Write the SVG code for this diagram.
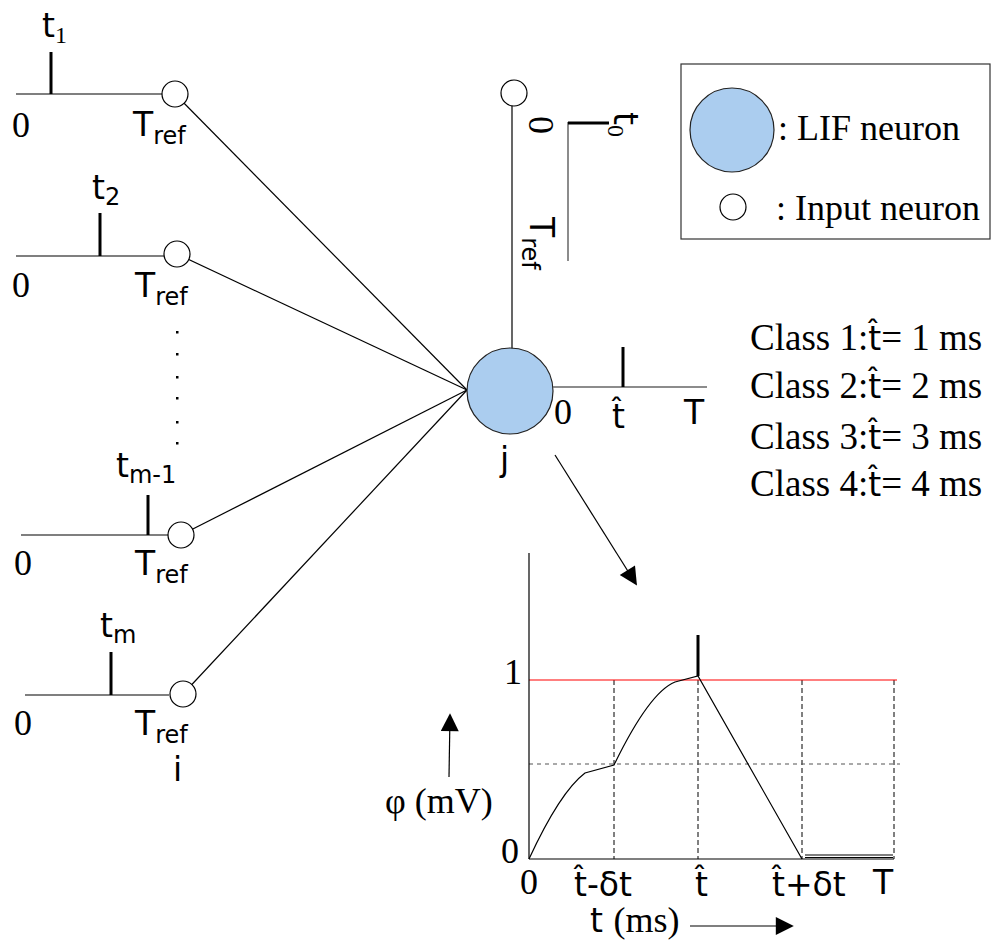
<svg xmlns="http://www.w3.org/2000/svg" width="1000" height="942" viewBox="0 0 1000 942">
<defs>
<marker id="ahBig" viewBox="0 0 10 10" refX="9" refY="5" markerWidth="22" markerHeight="18" markerUnits="userSpaceOnUse" orient="auto"><path d="M0,0 L10,5 L0,10 z" fill="#000"/></marker>
<style>
.ln{stroke:#000;stroke-width:1.2;fill:none}
.gl{stroke:#666;stroke-width:1.5;fill:none}
.sp{stroke:#000;stroke-width:3;fill:none}
.in{fill:#fff;stroke:#000;stroke-width:1.2}
.lif{fill:#abcdef;stroke:#222;stroke-width:1.2}
.sf{font-family:"Liberation Serif",serif;font-size:36px;fill:#000}
.ss{font-family:"DejaVu Sans",sans-serif;font-size:33px;fill:#000}
.sub{font-size:24px}
.cl{font-size:37px}
.dv{stroke:#000;stroke-width:1;stroke-dasharray:5,3;fill:none}
.dh{stroke:#555;stroke-width:1.2;stroke-dasharray:4,4;fill:none}
</style>
</defs>
<rect width="1000" height="942" fill="#fff"/>

<g id="connectors">
<line class="ln" x1="175" y1="94" x2="467" y2="390"/>
<line class="ln" x1="177" y1="254" x2="467" y2="390"/>
<line class="ln" x1="181" y1="535" x2="467" y2="390"/>
<line class="ln" x1="183" y1="694" x2="467" y2="390"/>
<line class="ln" x1="512" y1="93" x2="512" y2="349"/>
<line class="ln" x1="555" y1="455" x2="636" y2="584" marker-end="url(#ahBig)"/>
</g>

<g id="input1">
<line class="ln" x1="16" y1="94" x2="162" y2="94"/>
<line class="sp" x1="51" y1="52" x2="51" y2="94"/>
<circle class="in" cx="175" cy="94" r="13"/>
<text class="ss" x="42" y="37">t<tspan class="sf sub" dy="6">1</tspan></text>
<text class="sf" x="12" y="137">0</text>
<text class="ss" x="133" y="136">T<tspan class="sub" dy="8">ref</tspan></text>
</g>

<g id="input2">
<line class="ln" x1="16" y1="256" x2="164" y2="256"/>
<line class="sp" x1="100" y1="213" x2="100" y2="256"/>
<circle class="in" cx="177" cy="254" r="13"/>
<text class="ss" x="92" y="199">t<tspan class="sub" dy="6">2</tspan></text>
<text class="sf" x="12" y="297">0</text>
<text class="ss" x="135" y="297">T<tspan class="sub" dy="8">ref</tspan></text>
</g>

<g id="dots" fill="#000">
<rect x="176" y="331" width="2.5" height="2.5"/>
<rect x="176" y="353" width="2.5" height="2.5"/>
<rect x="176" y="376" width="2.5" height="2.5"/>
<rect x="176" y="397" width="2.5" height="2.5"/>
<rect x="176" y="421" width="2.5" height="2.5"/>
<rect x="176" y="442" width="2.5" height="2.5"/>
</g>

<g id="input3">
<line class="ln" x1="21" y1="535" x2="168" y2="535"/>
<line class="sp" x1="148" y1="495" x2="148" y2="535"/>
<circle class="in" cx="181" cy="535" r="13"/>
<text class="ss" x="116" y="477">t<tspan class="sub" dy="6">m-1</tspan></text>
<text class="sf" x="14" y="575">0</text>
<text class="ss" x="135" y="575">T<tspan class="sub" dy="8">ref</tspan></text>
</g>

<g id="input4">
<line class="ln" x1="25" y1="695" x2="169" y2="695"/>
<line class="sp" x1="111" y1="652" x2="111" y2="695"/>
<circle class="in" cx="183" cy="694" r="13"/>
<text class="ss" x="100" y="637">t<tspan class="sub" dy="6">m</tspan></text>
<text class="sf" x="14" y="735">0</text>
<text class="ss" x="135" y="735">T<tspan class="sub" dy="8">ref</tspan></text>
<text class="ss" x="173" y="781">i</text>
</g>

<g id="input0">
<circle class="in" cx="514" cy="93" r="13"/>
<line class="gl" x1="568" y1="122" x2="568" y2="261"/>
<line class="sp" x1="568" y1="123" x2="609" y2="123"/>
<text class="sf" transform="translate(529,116) rotate(90)">0</text>
<text class="ss" transform="translate(614,112) rotate(90)">t<tspan class="sf sub" dy="6">0</tspan></text>
<text class="ss" transform="translate(530,217) rotate(90)">T<tspan class="sub" dy="8">ref</tspan></text>
</g>

<g id="lif">
<circle class="lif" cx="510" cy="391" r="43"/>
<line class="gl" x1="553" y1="387" x2="707" y2="387"/>
<line class="sp" x1="623" y1="347" x2="623" y2="387"/>
<text class="sf" x="554" y="424">0</text>
<text class="ss" x="612" y="428">t&#x302;</text>
<text class="ss" x="684" y="424">T</text>
<text class="ss" x="500" y="471">j</text>
</g>

<g id="legend">
<rect x="681" y="64" width="309" height="175" fill="#fff" stroke="#333" stroke-width="1.2"/>
<circle class="lif" cx="732" cy="130" r="42"/>
<circle class="in" cx="733" cy="207" r="13"/>
<text class="sf" x="778" y="140">: LIF neuron</text>
<text class="sf" x="776" y="220">: Input neuron</text>
</g>

<g id="classes">
<text class="sf cl" x="750" y="350">Class 1:<tspan class="ss">t&#x302;</tspan>= 1 ms</text>
<text class="sf cl" x="750" y="398">Class 2:<tspan class="ss">t&#x302;</tspan>= 2 ms</text>
<text class="sf cl" x="750" y="449">Class 3:<tspan class="ss">t&#x302;</tspan>= 3 ms</text>
<text class="sf cl" x="750" y="496">Class 4:<tspan class="ss">t&#x302;</tspan>= 4 ms</text>
</g>

<g id="plot">
<line class="dv" x1="614" y1="680" x2="614" y2="859"/>
<line class="dv" x1="698" y1="680" x2="698" y2="859"/>
<line class="dv" x1="802" y1="680" x2="802" y2="859"/>
<line class="dv" x1="894" y1="680" x2="894" y2="859"/>
<line class="dh" x1="529" y1="764" x2="900" y2="764"/>
<line x1="529" y1="680" x2="897" y2="680" stroke="#f00" stroke-width="1.2"/>
<line class="ln" x1="529" y1="553" x2="529" y2="859"/>
<line class="ln" x1="529" y1="859" x2="894" y2="859"/>
<path class="ln" stroke-width="1.8" d="M529,859 Q560,792 585,773 L614,765 C632,728 655,690 675,682 L698,676 L802,859"/>
<line class="ln" x1="805" y1="855" x2="893" y2="855"/>
<line class="ln" x1="805" y1="857.5" x2="893" y2="857.5"/>
<line class="sp" x1="698" y1="635" x2="698" y2="676"/>
<text class="sf" x="504" y="684">1</text>
<text class="sf" x="501" y="863">0</text>
<text class="sf" x="520" y="894">0</text>
<text class="ss" x="574" y="896">t&#x302;-δt</text>
<text class="ss" x="695" y="896">t&#x302;</text>
<text class="ss" x="772" y="896">t&#x302;+δt</text>
<text class="ss" x="873" y="894">T</text>
<text class="ss" x="590" y="932">t <tspan class="sf">(ms)</tspan></text>
<line class="ln" x1="690" y1="926" x2="792" y2="926" marker-end="url(#ahBig)"/>
<line class="ln" x1="449" y1="777" x2="450" y2="715" marker-end="url(#ahBig)"/>
<text class="sf" x="385" y="813">φ (mV)</text>
</g>
</svg>
